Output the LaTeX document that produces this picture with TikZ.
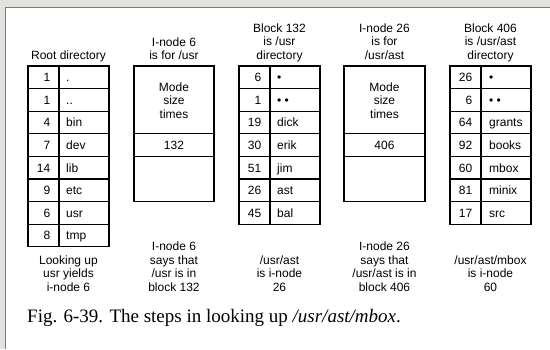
\documentclass[tikz,border=0pt]{standalone}
\usepackage{fontspec}
\setmainfont{Liberation Sans}
\newfontfamily\capfont{Liberation Serif}
\usepackage{tikz}
\definecolor{framecol}{HTML}{1E9FA3}
\definecolor{outercol}{HTML}{E4E2DE}
\def\rh{22.6}

\begin{document}
\begin{tikzpicture}[x=1pt,y=-1pt,
  lbl/.style={font=\fontsize{12}{13.5}\selectfont,inner sep=0pt},
  ttl/.style={lbl,align=center,anchor=north},
  num/.style={lbl,anchor=base east},
  nam/.style={lbl,anchor=base west},
  tbl/.style={line width=1.2pt}]
\useasboundingbox (0,0) rectangle (550,349);
\fill[outercol] (0,0) rectangle (550,349);
\fill[white] (5.5,7.5) rectangle (550,349);
\draw[framecol,line width=1.5pt] (5.5,349) -- (5.5,7.5) -- (550,7.5);

% root directory
\node[ttl] (root-t) at (68.5,50.4) {Root directory};
\draw[tbl] (28,66) rectangle (109,{66+8*\rh});
\draw[tbl] (59,66) -- (59,{66+8*\rh});
\foreach \i/\n/\f in %
{0/1/.,1/1/..,2/4/bin,3/7/dev,4/14/lib,5/9/etc,6/6/usr,7/8/tmp} {
   \draw[tbl] (28,{66+\i*\rh}) -- (109,{66+\i*\rh});
   \node[num] (root-n\i) at (50.5,{66+(\i+0.5)*\rh+4.3}) {\n};
   \node[nam] (root-f\i) at (66,{66+(\i+0.5)*\rh+4.3}) {\f};
}
\node[ttl] (root-b) at (68.5,255.4) {Looking up\\usr yields\\i-node 6};

% i-node 6
\node[ttl] (ino6-t) at (174,37.4) {I-node 6\\is for /usr};
\draw[tbl] (134,66) rectangle (214,{66+6*\rh});
\draw[tbl] (134,{66+3*\rh}) -- (214,{66+3*\rh});
\draw[tbl] (134,{66+4*\rh}) -- (214,{66+4*\rh});
\node[ttl] (ino6-m) at (174,82.4) {Mode\\size\\times};
\node[lbl,anchor=base] (ino6-a) at (174,{66+3.5*\rh+4.3}) {132};
\node[ttl] (ino6-b) at (174,242) {I-node 6\\says that\\/usr is in\\block 132};

% block 132
\node[ttl] (blk132-t) at (279.5,23.4) {Block 132\\is /usr\\directory};
\draw[tbl] (239,66) rectangle (320,{66+7*\rh});
\draw[tbl] (270,66) -- (270,{66+7*\rh});
\foreach \i/\n/\f in %
{0/6/•,1/1/• •,2/19/dick,3/30/erik,4/51/jim,5/26/ast,6/45/bal} {
   \draw[tbl] (239,{66+\i*\rh}) -- (320,{66+\i*\rh});
   \node[num] (blk132-n\i) at (261.5,{66+(\i+0.5)*\rh+4.3}) {\n};
   \node[nam] (blk132-f\i) at (277,{66+(\i+0.5)*\rh+4.3}) {\f};
}
\node[ttl] (blk132-b) at (279.5,255.4) {/usr/ast\\is i-node\\26};

% i-node 26
\node[ttl] (ino26-t) at (384.5,23.4) {I-node 26\\is for\\/usr/ast};
\draw[tbl] (344,66) rectangle (425,{66+6*\rh});
\draw[tbl] (344,{66+3*\rh}) -- (425,{66+3*\rh});
\draw[tbl] (344,{66+4*\rh}) -- (425,{66+4*\rh});
\node[ttl] (ino26-m) at (384.5,82.4) {Mode\\size\\times};
\node[lbl,anchor=base] (ino26-a) at (384.5,{66+3.5*\rh+4.3}) {406};
\node[ttl] (ino26-b) at (384.5,242) {I-node 26\\says that\\/usr/ast is in\\block 406};

% block 406
\node[ttl] (blk406-t) at (490.5,23.4) {Block 406\\is /usr/ast\\directory};
\draw[tbl] (450,66) rectangle (531,{66+7*\rh});
\draw[tbl] (481,66) -- (481,{66+7*\rh});
\foreach \i/\n/\f in %
{0/26/•,1/6/• •,2/64/grants,3/92/books,4/60/mbox,5/81/minix,6/17/src} {
   \draw[tbl] (450,{66+\i*\rh}) -- (531,{66+\i*\rh});
   \node[num] (blk406-n\i) at (472.5,{66+(\i+0.5)*\rh+4.3}) {\n};
   \node[nam] (blk406-f\i) at (489,{66+(\i+0.5)*\rh+4.3}) {\f};
}
\node[ttl] (blk406-b) at (490.5,255.4) {/usr/ast/mbox\\is i-node\\60};

% caption
\node[anchor=base west,inner sep=0pt,font=\capfont\fontsize{19}{22}\selectfont] (caption) at (27,322) {Fig. 6-39. The steps in looking up \textit{/usr/ast/mbox}.};
\end{tikzpicture}
\end{document}
